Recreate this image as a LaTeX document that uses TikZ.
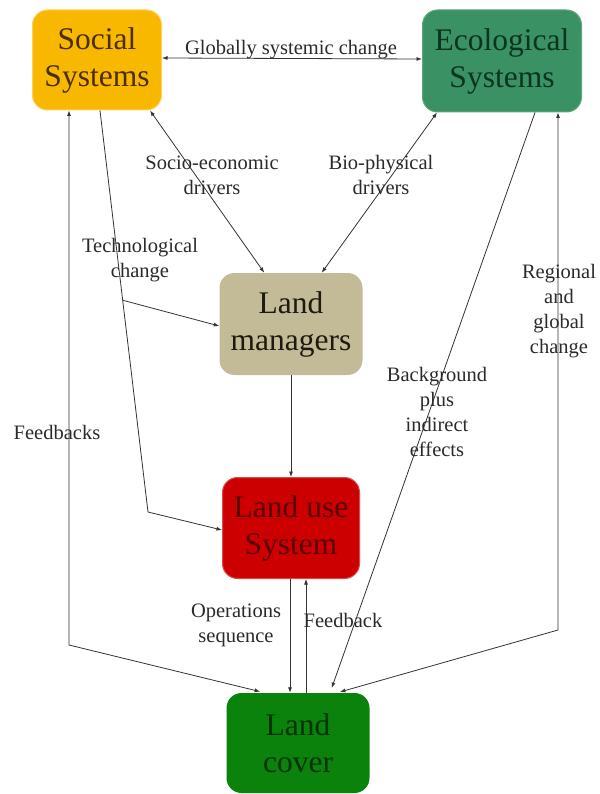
\documentclass[tikz,border=0pt]{standalone}
\usepackage{fontspec}
\setmainfont{Liberation Serif}
\usetikzlibrary{arrows.meta,calc}
\definecolor{socfill}{HTML}{F8B800}
\definecolor{socborder}{HTML}{FFD060}
\definecolor{soctext}{HTML}{4A2E00}
\definecolor{ecofill}{HTML}{3A9163}
\definecolor{ecotext}{HTML}{0B3520}
\definecolor{lmfill}{HTML}{C3BA97}
\definecolor{lmtext}{HTML}{1E1A10}
\definecolor{lufill}{HTML}{CC0000}
\definecolor{lutext}{HTML}{5A0000}
\definecolor{lcfill}{HTML}{0B820B}
\definecolor{lctext}{HTML}{063206}
\definecolor{linec}{HTML}{333333}
\definecolor{labc}{HTML}{2A2A2A}
\begin{document}
\begin{tikzpicture}[x=1pt,y=-1pt,
  sysbox/.style={rounded corners=15pt, align=center, inner sep=0pt,
    font=\fontsize{31.5}{37}\selectfont},
  lab/.style={align=center, inner sep=1pt, text=labc,
    font=\fontsize{20.5}{25}\selectfont},
  conn/.style={draw=linec, line width=0.8pt},
  tip/.style={-{Latex[length=5.5pt,width=4pt]}},
  dtip/.style={{Latex[length=5.5pt,width=4pt]}-{Latex[length=5.5pt,width=4pt]}}
]
\useasboundingbox (0,0) rectangle (599,794);
\fill[white] (0,0) rectangle (599,794);

% boxes
\node[sysbox, fill=socfill, draw=socborder, line width=1pt, text=soctext,
  minimum width=129pt, minimum height=100pt] (soc) at (97,60) {Social\\Systems};
\node[sysbox, fill=ecofill, draw=ecofill!80!white, line width=1pt, text=ecotext,
  minimum width=159pt, minimum height=102pt] (eco) at (502,61) {Ecological\\Systems};
\node[sysbox, fill=lmfill, text=lmtext,
  minimum width=143pt, minimum height=102pt] (lm) at (291,324) {Land\\managers};
\node[sysbox, fill=lufill, draw=lufill!70!white, line width=1pt, text=lutext,
  minimum width=137pt, minimum height=101pt] (lu) at (291,528) {Land use\\System};
\node[sysbox, fill=lcfill, text=lctext,
  minimum width=143pt, minimum height=100pt] (lc) at (298,743) {Land\\cover};

% corner coordinates
\coordinate (tcorner) at (148,512);
\coordinate (fbcorner) at (69,645);
\coordinate (rgcorner) at (558,630);

% connectors
\draw[conn, dtip] ([yshift=2pt]soc.east) -- ([yshift=2pt]eco.west);
\draw[conn, dtip] ([xshift=-12pt]soc.south east) -- ([xshift=45pt]lm.north west);
\draw[conn, dtip] ([xshift=15pt]eco.south west) -- ([xshift=-41pt]lm.north east);
\draw[conn, tip] ([xshift=3pt]soc.south) -- (tcorner) -- ([yshift=-2pt]lu.west);
\coordinate (tbranch) at ($([xshift=3pt]soc.south)!0.4726!(tcorner)$);
\draw[conn, tip] (tbranch) -- ([yshift=-2pt]lm.west);
\draw[conn, tip] (lm.south) -- (lu.north);
\draw[conn, tip] ([xshift=-8pt]lc.north |- lu.south) -- ([xshift=-8pt]lc.north);
\draw[conn, tip] ([xshift=8pt]lc.north) -- ([xshift=8pt]lc.north |- lu.south);
\draw[conn, tip, shorten >=5pt] ([xshift=33pt]eco.south) -- ([xshift=32pt]lc.north);
\draw[conn, dtip, shorten >=3pt] ([xshift=56pt]eco.south) -- (rgcorner) -- ([xshift=39pt]lc.north);
\draw[conn, dtip, shorten >=5pt] ([xshift=-28pt]soc.south) -- (fbcorner) -- ([xshift=-33pt]lc.north);

% labels
\node[lab] (lglob) at (291,50) {Globally systemic change};
\node[lab] (lsocio) at (212,175) {Socio-economic\\drivers};
\node[lab] (lbio) at (381,175) {Bio-physical\\drivers};
\node[lab] (ltech) at (140,260) {Technological\\change};
\node[lab] (lfbs) at (57,432) {Feedbacks};
\node[lab] (lback) at (437,412) {Background\\plus\\indirect\\effects};
\node[lab] (lreg) at (559,311) {Regional\\and\\global\\change};
\node[lab] (lops) at (236,625) {Operations\\sequence};
\node[lab] (lfb) at (343,620) {Feedback};
\end{tikzpicture}
\end{document}
